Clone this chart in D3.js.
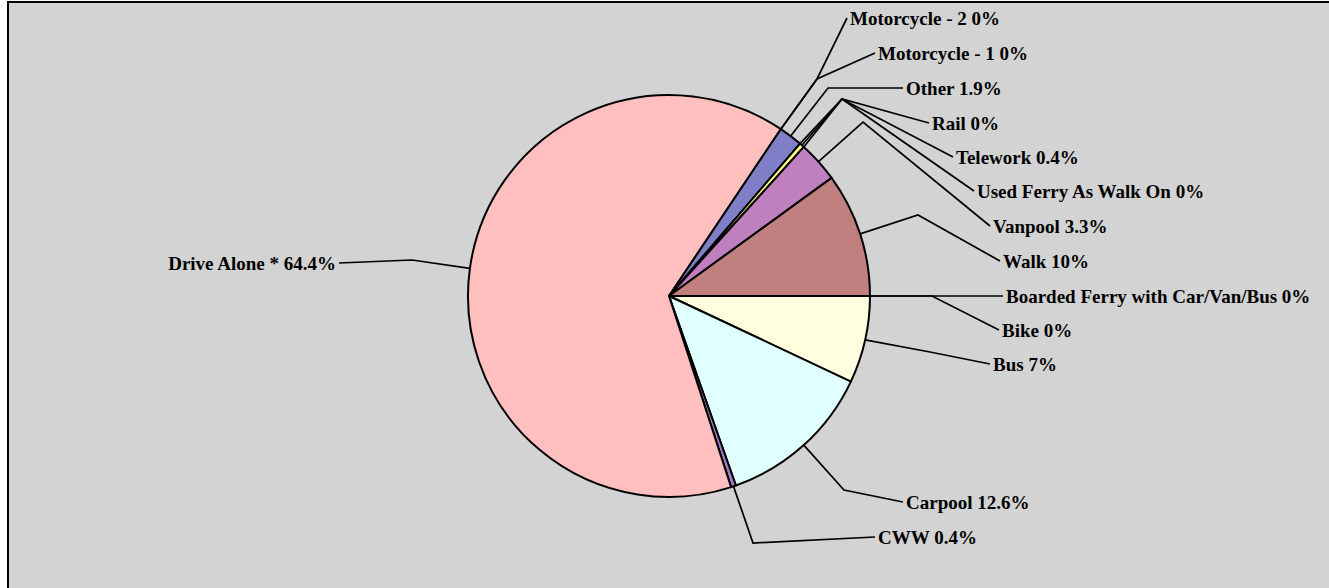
<!DOCTYPE html>
<html>
<head>
<meta charset="utf-8">
<script src="https://cdn.jsdelivr.net/npm/d3@7"></script>
<style>
  html, body { margin: 0; padding: 0; background: #fff; }
  svg { display: block; }
</style>
</head>
<body>
<div id="chart"></div>
<script>
// slice order, clockwise starting at 3 o'clock
const categories = ["Bike", "Boarded Ferry with Car/Van/Bus", "Bus", "Carpool", "CWW", "Drive Alone *",
    "Motorcycle - 1", "Motorcycle - 2", "Other", "Rail", "Telework", "Used Ferry As Walk On", "Vanpool", "Walk"];
const shares = [0, 0, 7, 12.6, 0.4, 64.4, 0, 0, 1.9, 0, 0.4, 0, 3.3, 10];
const sliceColors = ["#9999ff", "#993366", "#ffffe0", "#e0ffff", "#a27cc6", "#ffbfbf",
    "#7f7fc8", "#7f7fc8", "#7f7fc8", "#993366", "#ffff80", "#ccffff", "#c080c0", "#c08080"];

// label layout: elbow of leader line and label anchor (left edge, middle)
const labelLayout = [
    {elbow: [932, 296], at: [1002, 330]},
    {elbow: [932, 296], at: [1006, 296]},
    {elbow: [930, 352], at: [993, 364]},
    {elbow: [844, 490], at: [906, 502]},
    {elbow: [753, 543], at: [878, 537]},
    {elbow: [412, 260], at: [336, 263], end: true},
    {elbow: [817, 79], at: [878, 53]},
    {elbow: [817, 79], at: [850, 18]},
    {elbow: [828, 88], at: [906, 88]},
    {elbow: [842, 99], at: [932, 123]},
    {elbow: [842, 99], at: [956, 157]},
    {elbow: [842, 99], at: [977, 191]},
    {elbow: [863, 122], at: [993, 226]},
    {elbow: [918, 215], at: [1003, 261]}
];

const width = 1329, height = 588;
const cx = 669, cy = 296, radius = 201;

const svg = d3.select("#chart")
    .append("svg")
    .attr("width", width)
    .attr("height", height);

// chart area with frame
svg.append("rect")
    .attr("x", 8)
    .attr("y", 2)
    .attr("width", width + 20)
    .attr("height", height + 20)
    .attr("fill", "#d3d3d3")
    .attr("stroke", "#000")
    .attr("stroke-width", 2);

const rows = categories.map((c, i) => ({name: c, value: shares[i], color: sliceColors[i], layout: labelLayout[i]}));

const pie = d3.pie()
    .sort(null)
    .value(d => d.value)
    .startAngle(Math.PI / 2)
    .endAngle(Math.PI / 2 + 2 * Math.PI);

const arcs = pie(rows);

const arc = d3.arc().innerRadius(0).outerRadius(radius);
const edge = d3.arc().innerRadius(radius).outerRadius(radius);

const g = svg.append("g")
    .attr("transform", `translate(${cx}, ${cy})`);

g.selectAll("path.slice")
    .data(arcs.filter(d => d.data.value > 0))
    .enter()
    .append("path")
    .attr("class", "slice")
    .attr("d", arc)
    .attr("fill", d => d.data.color)
    .attr("stroke", "#000")
    .attr("stroke-width", 2)
    .attr("stroke-linejoin", "round");

// leader lines
const line = d3.line();
svg.selectAll("path.leader")
    .data(arcs)
    .enter()
    .append("path")
    .attr("class", "leader")
    .attr("d", function (d) {
        const p = edge.centroid(d);
        const L = d.data.layout;
        const endX = L.end ? L.at[0] + 3 : L.at[0] - 3;
        return line([[cx + p[0], cy + p[1]], L.elbow, [endX, L.at[1]]]);
    })
    .attr("fill", "none")
    .attr("stroke", "#000")
    .attr("stroke-width", 1.7);

// labels
svg.selectAll("text.lbl")
    .data(arcs)
    .enter()
    .append("text")
    .attr("class", "lbl")
    .attr("x", d => d.data.layout.at[0])
    .attr("y", d => d.data.layout.at[1])
    .attr("dy", "0.35em")
    .attr("text-anchor", d => d.data.layout.end ? "end" : "start")
    .attr("font-family", "'Liberation Serif', 'Times New Roman', serif")
    .attr("font-weight", "bold")
    .attr("font-size", "19px")
    .attr("fill", "#000")
    .text(d => `${d.data.name} ${d.data.value}%`);
</script>
</body>
</html>
